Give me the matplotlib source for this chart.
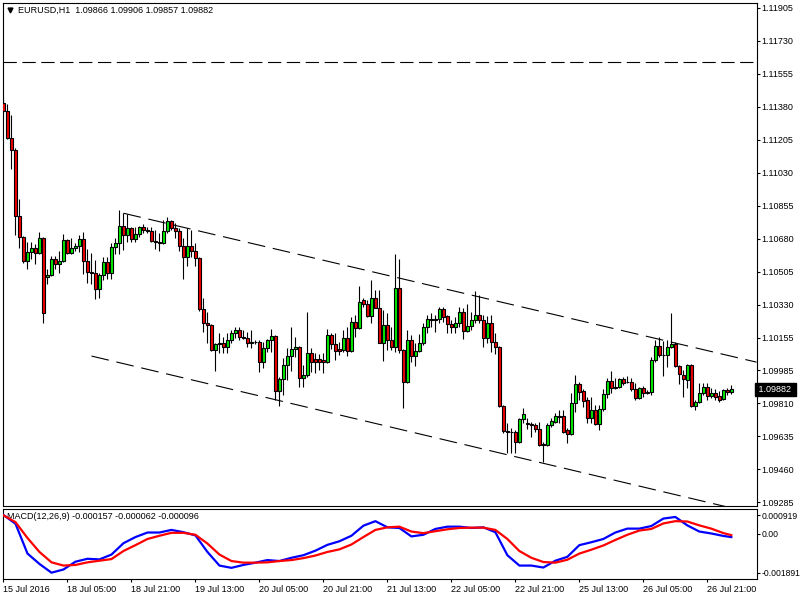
import matplotlib
matplotlib.use('Agg')
import matplotlib.pyplot as plt
import matplotlib.transforms as mtransforms
import numpy as np

plt.rcParams['font.family'] = ['Liberation Sans', 'DejaVu Sans']

# EURUSD H1 candles, 15 Jul 2016 13:00 .. 27 Jul 2016 03:00
opens = [1.11400, 1.11358, 1.11215, 1.11151, 1.10801, 1.10690, 1.10565, 1.10610, 1.10632, 1.10605,
         1.10685, 1.10478, 1.10489, 1.10573, 1.10547, 1.10563, 1.10674, 1.10605, 1.10632, 1.10642,
         1.10679, 1.10563, 1.10504, 1.10499, 1.10414, 1.10489, 1.10557, 1.10499, 1.10637, 1.10658,
         1.10748, 1.10700, 1.10738, 1.10679, 1.10706, 1.10743, 1.10727, 1.10722, 1.10669, 1.10663,
         1.10660, 1.10722, 1.10775, 1.10738, 1.10722, 1.10642, 1.10584, 1.10642, 1.10616, 1.10579,
         1.10310, 1.10234, 1.10226, 1.10091, 1.10123, 1.10128, 1.10107, 1.10144, 1.10181, 1.10197,
         1.10160, 1.10155, 1.10128, 1.10133, 1.10136, 1.10027, 1.10102, 1.10144, 1.10165, 1.09874,
         1.09937, 1.10012, 1.10059, 1.10096, 1.10107, 1.09943, 1.09959, 1.10075, 1.10043, 1.10043,
         1.10038, 1.10027, 1.10171, 1.10123, 1.10096, 1.10091, 1.10155, 1.10086, 1.10239, 1.10208,
         1.10356, 1.10335, 1.10270, 1.10367, 1.10316, 1.10130, 1.10224, 1.10144, 1.10107, 1.10420,
         1.10091, 1.09921, 1.10144, 1.10059, 1.10086, 1.10128, 1.10213, 1.10250, 1.10248, 1.10255,
         1.10308, 1.10270, 1.10229, 1.10213, 1.10234, 1.10292, 1.10192, 1.10218, 1.10250, 1.10277,
         1.10250, 1.10155, 1.10234, 1.10133, 1.10107, 1.09794, 1.09662, 1.09659, 1.09654, 1.09603,
         1.09725, 1.09704, 1.09699, 1.09696, 1.09672, 1.09593, 1.09585, 1.09694, 1.09710, 1.09741,
         1.09741, 1.09665, 1.09646, 1.09810, 1.09911, 1.09873, 1.09826, 1.09731, 1.09773, 1.09699,
         1.09778, 1.09858, 1.09927, 1.09890, 1.09895, 1.09937, 1.09921, 1.09919, 1.09884, 1.09837,
         1.09890, 1.09863, 1.09866, 1.10038, 1.10112, 1.10065, 1.10062, 1.10107, 1.10123, 1.10006,
         1.09959, 1.09932, 1.10010, 1.09794, 1.09815, 1.09863, 1.09895, 1.09847, 1.09863, 1.09847,
         1.09831, 1.09879, 1.09866]
highs = [1.11432, 1.11395, 1.11337, 1.11160, 1.10891, 1.10695, 1.10663, 1.10663, 1.10653, 1.10716,
         1.10690, 1.10520, 1.10589, 1.10589, 1.10616, 1.10706, 1.10680, 1.10685, 1.10658, 1.10700,
         1.10716, 1.10626, 1.10605, 1.10568, 1.10499, 1.10584, 1.10584, 1.10658, 1.10685, 1.10833,
         1.10817, 1.10812, 1.10743, 1.10743, 1.10748, 1.10759, 1.10743, 1.10743, 1.10727, 1.10711,
         1.10780, 1.10796, 1.10780, 1.10764, 1.10738, 1.10685, 1.10738, 1.10727, 1.10658, 1.10584,
         1.10367, 1.10292, 1.10230, 1.10128, 1.10181, 1.10160, 1.10181, 1.10197, 1.10213, 1.10213,
         1.10197, 1.10186, 1.10197, 1.10144, 1.10144, 1.10133, 1.10149, 1.10202, 1.10170, 1.09948,
         1.10049, 1.10102, 1.10213, 1.10160, 1.10110, 1.10012, 1.10292, 1.10102, 1.10075, 1.10070,
         1.10075, 1.10202, 1.10181, 1.10181, 1.10133, 1.10197, 1.10213, 1.10266, 1.10277, 1.10430,
         1.10367, 1.10356, 1.10462, 1.10409, 1.10409, 1.10303, 1.10287, 1.10213, 1.10600, 1.10573,
         1.10095, 1.10197, 1.10171, 1.10128, 1.10176, 1.10234, 1.10277, 1.10287, 1.10277, 1.10319,
         1.10319, 1.10275, 1.10250, 1.10266, 1.10319, 1.10314, 1.10335, 1.10292, 1.10404, 1.10383,
         1.10277, 1.10271, 1.10277, 1.10181, 1.10112, 1.09800, 1.09704, 1.09678, 1.09665, 1.09731,
         1.09784, 1.09731, 1.09709, 1.09704, 1.09709, 1.09603, 1.09704, 1.09731, 1.09757, 1.09773,
         1.09773, 1.09678, 1.09863, 1.09959, 1.09921, 1.09884, 1.09842, 1.09842, 1.09800, 1.09800,
         1.09884, 1.09943, 1.09980, 1.09943, 1.09943, 1.09948, 1.09953, 1.09943, 1.09916, 1.09895,
         1.09900, 1.09879, 1.10054, 1.10144, 1.10160, 1.10139, 1.10144, 1.10287, 1.10133, 1.10012,
         1.09985, 1.10015, 1.10017, 1.09826, 1.09916, 1.09916, 1.09916, 1.09890, 1.09884, 1.09874,
         1.09884, 1.09890, 1.09906]
lows = [1.11347, 1.11209, 1.11050, 1.10700, 1.10632, 1.10552, 1.10520, 1.10573, 1.10547, 1.10600,
        1.10234, 1.10441, 1.10483, 1.10520, 1.10499, 1.10555, 1.10600, 1.10598, 1.10616, 1.10610,
        1.10494, 1.10446, 1.10441, 1.10361, 1.10367, 1.10462, 1.10467, 1.10467, 1.10600, 1.10600,
        1.10621, 1.10663, 1.10663, 1.10663, 1.10690, 1.10711, 1.10711, 1.10663, 1.10626, 1.10616,
        1.10653, 1.10711, 1.10727, 1.10685, 1.10616, 1.10467, 1.10536, 1.10584, 1.10536, 1.10300,
        1.10186, 1.10128, 1.10086, 1.09980, 1.10075, 1.10075, 1.10075, 1.10128, 1.10155, 1.10144,
        1.10149, 1.10107, 1.10102, 1.10123, 1.09974, 1.09996, 1.10080, 1.10080, 1.09826, 1.09794,
        1.09853, 1.09932, 1.09980, 1.10054, 1.09895, 1.09895, 1.09948, 1.09974, 1.09969, 1.09985,
        1.09969, 1.10022, 1.10096, 1.10038, 1.10065, 1.10080, 1.10059, 1.10080, 1.10160, 1.10200,
        1.10319, 1.10266, 1.10234, 1.10314, 1.10128, 1.10033, 1.10091, 1.10091, 1.10080, 1.10075,
        1.09784, 1.09915, 1.10027, 1.10006, 1.10080, 1.10118, 1.10181, 1.10213, 1.10186, 1.10234,
        1.10239, 1.10181, 1.10181, 1.10181, 1.10213, 1.10149, 1.10186, 1.10197, 1.10234, 1.10234,
        1.10107, 1.10128, 1.10080, 1.10070, 1.09789, 1.09651, 1.09545, 1.09545, 1.09545, 1.09598,
        1.09704, 1.09672, 1.09630, 1.09656, 1.09582, 1.09497, 1.09580, 1.09683, 1.09704, 1.09704,
        1.09651, 1.09598, 1.09640, 1.09762, 1.09826, 1.09789, 1.09704, 1.09704, 1.09694, 1.09667,
        1.09768, 1.09837, 1.09863, 1.09884, 1.09890, 1.09906, 1.09916, 1.09874, 1.09826, 1.09831,
        1.09842, 1.09858, 1.09853, 1.10027, 1.10054, 1.09953, 1.10001, 1.10102, 1.10001, 1.09911,
        1.09842, 1.09890, 1.09789, 1.09773, 1.09810, 1.09853, 1.09826, 1.09837, 1.09826, 1.09815,
        1.09826, 1.09853, 1.09857]
closes = [1.11358, 1.11215, 1.11151, 1.10801, 1.10690, 1.10563, 1.10610, 1.10632, 1.10605, 1.10685,
          1.10287, 1.10489, 1.10573, 1.10547, 1.10563, 1.10674, 1.10605, 1.10632, 1.10642, 1.10679,
          1.10563, 1.10504, 1.10499, 1.10414, 1.10489, 1.10557, 1.10499, 1.10637, 1.10658, 1.10748,
          1.10700, 1.10738, 1.10679, 1.10706, 1.10743, 1.10727, 1.10722, 1.10669, 1.10663, 1.10660,
          1.10722, 1.10775, 1.10738, 1.10722, 1.10642, 1.10584, 1.10642, 1.10616, 1.10579, 1.10310,
          1.10234, 1.10226, 1.10091, 1.10123, 1.10128, 1.10107, 1.10144, 1.10181, 1.10197, 1.10160,
          1.10155, 1.10128, 1.10133, 1.10136, 1.10027, 1.10102, 1.10144, 1.10165, 1.09874, 1.09937,
          1.10012, 1.10059, 1.10096, 1.10107, 1.09943, 1.09959, 1.10075, 1.10027, 1.10027, 1.10027,
          1.10027, 1.10171, 1.10123, 1.10086, 1.10086, 1.10155, 1.10086, 1.10239, 1.10208, 1.10345,
          1.10335, 1.10270, 1.10367, 1.10316, 1.10130, 1.10224, 1.10144, 1.10107, 1.10420, 1.10091,
          1.09921, 1.10144, 1.10059, 1.10086, 1.10128, 1.10213, 1.10255, 1.10255, 1.10255, 1.10308,
          1.10266, 1.10229, 1.10213, 1.10234, 1.10292, 1.10192, 1.10218, 1.10250, 1.10277, 1.10250,
          1.10155, 1.10234, 1.10133, 1.10107, 1.09794, 1.09662, 1.09656, 1.09654, 1.09603, 1.09725,
          1.09752, 1.09699, 1.09696, 1.09672, 1.09588, 1.09585, 1.09694, 1.09715, 1.09741, 1.09738,
          1.09656, 1.09646, 1.09810, 1.09911, 1.09868, 1.09821, 1.09731, 1.09773, 1.09699, 1.09778,
          1.09858, 1.09927, 1.09890, 1.09895, 1.09937, 1.09916, 1.09919, 1.09884, 1.09837, 1.09890,
          1.09863, 1.09866, 1.10038, 1.10112, 1.10065, 1.10062, 1.10107, 1.10123, 1.10006, 1.09964,
          1.09937, 1.10010, 1.09794, 1.09815, 1.09863, 1.09895, 1.09847, 1.09863, 1.09842, 1.09826,
          1.09879, 1.09866, 1.09882]

# MACD(12,26,9) main (blue) and signal (red), read every 3 bars
macd_bars = [0, 3, 6, 9, 12, 15, 18, 21, 24, 27, 30, 33, 36, 39, 42, 45, 48, 51, 54, 57,
             60, 63, 66, 69, 72, 75, 78, 81, 84, 87, 90, 93, 96, 99, 102, 105, 108, 111, 114, 117,
             120, 123, 126, 129, 132, 135, 138, 141, 144, 147, 150, 153, 156, 159, 162, 165, 168, 171, 174, 177,
             180, 182]
macd_main = [0.000919, 0.000493, -0.000960, -0.001465, -0.001891, -0.001734, -0.001355, -0.001213, -0.001244, -0.001007,
             -0.000455, -0.000155, 0.000066, 0.000066, 0.000193, 0.000082, -0.000076, -0.000881, -0.001544, -0.001655,
             -0.001513, -0.001402, -0.001276, -0.001323, -0.001165, -0.001039, -0.000818, -0.000534, -0.000360, -0.000092,
             0.000398, 0.000619, 0.000319, 0.000287, -0.000123, -0.000044, 0.000240, 0.000351, 0.000351, 0.000287,
             0.000319, 0.000082, -0.001039, -0.001544, -0.001544, -0.001639, -0.001307, -0.001118, -0.000549, -0.000407,
             -0.000249, 0.000066, 0.000256, 0.000256, 0.000382, 0.000745, 0.000824, 0.000414, 0.000114, 0.000019,
             -0.000100, -0.000157]
macd_signal = [0.000903, 0.000572, -0.000202, -0.000881, -0.001386, -0.001544, -0.001513, -0.001386, -0.001307, -0.001228,
               -0.000834, -0.000549, -0.000249, -0.000092, 0.000051, 0.000051, -0.000044, -0.000471, -0.001007, -0.001323,
               -0.001402, -0.001402, -0.001386, -0.001323, -0.001276, -0.001181, -0.001055, -0.000881, -0.000755, -0.000518,
               -0.000155, 0.000193, 0.000319, 0.000351, 0.000114, 0.000035, 0.000129, 0.000224, 0.000287, 0.000303,
               0.000303, 0.000193, -0.000249, -0.000834, -0.001165, -0.001371, -0.001402, -0.001260, -0.000960, -0.000771,
               -0.000565, -0.000297, -0.000044, 0.000161, 0.000240, 0.000508, 0.000619, 0.000603, 0.000414, 0.000256,
               0.000040, -0.000062]

price_ticks = [1.11905, 1.11730, 1.11555, 1.11380, 1.11205, 1.11030, 1.10855, 1.10680,
               1.10505, 1.10330, 1.10155, 1.09985, 1.09810, 1.09635, 1.09460, 1.09285]
price_tick_labels = ['1.11905', '1.11730', '1.11555', '1.11380', '1.11205', '1.11030', '1.10855', '1.10680',
                     '1.10505', '1.10330', '1.10155', '1.09985', '1.09810', '1.09635', '1.09460', '1.09285']
macd_ticks = [0.000919, 0.0, -0.001891]
macd_tick_labels = ['0.000919', '0.00', '-0.001891']
time_ticks = [0, 16, 32, 48, 64, 80, 96, 112, 128, 144, 160, 176]
time_labels = ['15 Jul 2016', '18 Jul 05:00', '18 Jul 21:00', '19 Jul 13:00', '20 Jul 05:00', '20 Jul 21:00',
               '21 Jul 13:00', '22 Jul 05:00', '22 Jul 21:00', '25 Jul 13:00', '26 Jul 05:00', '26 Jul 21:00']

# horizontal level and channel trend lines (bar index, price)
level_price = 1.11617
upper_bars = [30, 180]
upper_prices = [1.10816, 1.10068]
lower_bars = [22, 150]
lower_prices = [1.10059, 1.09415]

header = 'EURUSD,H1  1.09866 1.09906 1.09857 1.09882'
macd_header = 'MACD(12,26,9) -0.000157 -0.000062 -0.000096'
last_price = 1.09882

W, H = 800, 600
FS = 6.5


def box(x0, y0, x1, y1):
    return [x0 / W, 1 - y1 / H, (x1 - x0) / W, (y1 - y0) / H]


fig = plt.figure(figsize=(8, 6), dpi=100)
ax = fig.add_axes(box(2.5, 2.5, 756.5, 505.5))
axm = fig.add_axes(box(2.5, 508.5, 756.5, 579), sharex=ax)

o = np.array(opens)
h = np.array(highs)
l = np.array(lows)
c = np.array(closes)
idx = np.arange(len(c))

xmax = 188.3
ax.set_xlim(-0.25, xmax)
ax.set_ylim(1.092669, 1.119328)

# candles
ax.vlines(idx, l, h, color='black', lw=0.8, zorder=3)
bottom = np.minimum(o, c)
height = np.maximum(np.abs(c - o), 0.00001)
colors = np.where(c >= o, '#00EE00', '#F00000')
ax.bar(idx, height, bottom=bottom, width=0.6, color=colors, edgecolor='black',
       linewidth=0.8, zorder=4)

# level line
ax.axhline(level_price, color='black', lw=0.8, dashes=(12, 5), zorder=2)


def ray(bars, prices, x_end):
    slope = (prices[1] - prices[0]) / (bars[1] - bars[0])
    return [bars[0], x_end], [prices[0], prices[0] + slope * (x_end - bars[0])]


xs, ys = ray(upper_bars, upper_prices, xmax)
ax.plot(xs, ys, color='black', lw=0.8, dashes=(16, 7), zorder=2)
xs, ys = ray(lower_bars, lower_prices, xmax)
ax.plot(xs, ys, color='black', lw=0.8, dashes=(16, 7), zorder=2)

# axes styling
for a in (ax, axm):
    for s in a.spines.values():
        s.set_linewidth(0.8)
    a.yaxis.tick_right()
    a.tick_params(axis='y', direction='out', length=2, width=0.8, pad=1.5,
                  labelsize=FS, colors='black')

ax.set_yticks(price_ticks)
ax.set_yticklabels(price_tick_labels)
ax.tick_params(axis='x', bottom=False, labelbottom=False)

ax.text(0.021, 0.985, header, transform=ax.transAxes, fontsize=FS, va='center', ha='left')
ax.plot([0.0105], [0.985], marker='v', color='black', markersize=3.5,
        transform=ax.transAxes, clip_on=False)

trans = mtransforms.blended_transform_factory(ax.transAxes, ax.transData)
ax.text(1.0, last_price, ' ' + f'{last_price:.5f}' + ' ', transform=trans, fontsize=FS,
        color='white', va='center', ha='left',
        bbox=dict(facecolor='black', edgecolor='black', pad=1.2), zorder=10, clip_on=False)

# MACD panel
axm.plot(macd_bars, macd_main, color='#0000FF', lw=1.6, zorder=3)
axm.plot(macd_bars, macd_signal, color='#FF0000', lw=1.6, zorder=3)
axm.set_ylim(-0.002198, 0.001236)
axm.set_yticks(macd_ticks)
axm.set_yticklabels(macd_tick_labels, fontsize=6.2)
axm.text(0.006, 0.88, macd_header, transform=axm.transAxes, fontsize=FS,
         va='center', ha='left', zorder=1)

axm.set_xticks(time_ticks)
axm.set_xticklabels(time_labels)
axm.tick_params(axis='x', direction='out', length=2.5, width=0.8, pad=2,
                labelsize=FS, colors='black')
for lab in axm.get_xticklabels():
    lab.set_ha('left')

fig.savefig('out.png', dpi=100, facecolor='white')
